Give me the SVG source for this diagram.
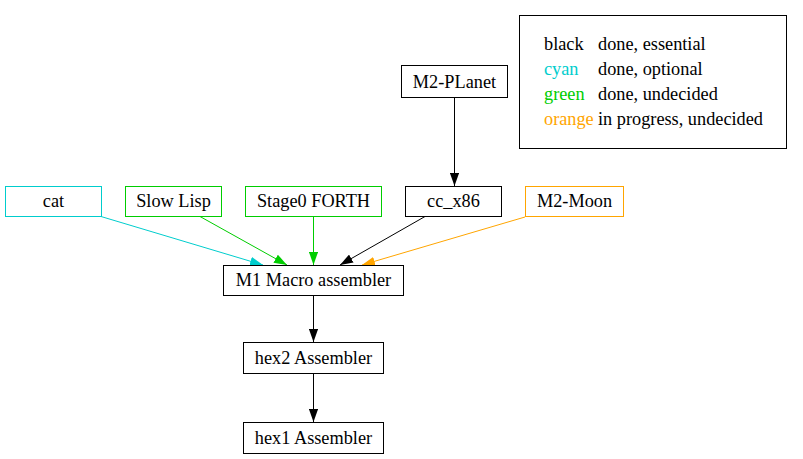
<svg xmlns="http://www.w3.org/2000/svg" width="803" height="459" viewBox="0 0 803 459">
<style>
rect{fill:#fff;stroke-width:1}
text{font-family:"Liberation Serif","Times New Roman",serif;font-size:18.3px;fill:#000}
.n text{text-anchor:middle}
.k{stroke:#000}.c{stroke:#00cdcd}.g{stroke:#00cd00}.o{stroke:#ffa500}
.e path{fill:none;stroke-width:1}
</style>
<defs>
<marker id="ak" viewBox="0 0 10 7" markerWidth="13" markerHeight="9.3" refX="10" refY="3.5" orient="auto" markerUnits="userSpaceOnUse"><path d="M0,0L10,3.5L0,7z" fill="#000"/></marker>
<marker id="ac" viewBox="0 0 10 7" markerWidth="13" markerHeight="9.3" refX="10" refY="3.5" orient="auto" markerUnits="userSpaceOnUse"><path d="M0,0L10,3.5L0,7z" fill="#00cdcd"/></marker>
<marker id="ag" viewBox="0 0 10 7" markerWidth="13" markerHeight="9.3" refX="10" refY="3.5" orient="auto" markerUnits="userSpaceOnUse"><path d="M0,0L10,3.5L0,7z" fill="#00cd00"/></marker>
<marker id="ao" viewBox="0 0 10 7" markerWidth="13" markerHeight="9.3" refX="10" refY="3.5" orient="auto" markerUnits="userSpaceOnUse"><path d="M0,0L10,3.5L0,7z" fill="#ffa500"/></marker>
</defs>
<rect x="0" y="0" width="803" height="459" style="stroke:none"/>
<g id="edges" class="e">
<path class="k" d="M454.5,98V186" marker-end="url(#ak)"/>
<path class="c" d="M101,216.5L263,265" marker-end="url(#ac)"/>
<path class="g" d="M200,216.5L287,265" marker-end="url(#ag)"/>
<path class="g" d="M313.5,216.5V265" marker-end="url(#ag)"/>
<path class="k" d="M425,216.5L340,265" marker-end="url(#ak)"/>
<path class="o" d="M525,217L362,265" marker-end="url(#ao)"/>
<path class="k" d="M313.5,296V342" marker-end="url(#ak)"/>
<path class="k" d="M313.5,374V422" marker-end="url(#ak)"/>
</g>
<g id="legend">
<rect class="k" x="519.5" y="15.5" width="267" height="133"/>
<text x="544" y="50">black</text>
<text x="544" y="75" style="fill:#00cdcd">cyan</text>
<text x="544" y="100" style="fill:#00cd00">green</text>
<text x="544" y="125" style="fill:#ffa500">orange</text>
<text x="598" y="50">done, essential</text>
<text x="598" y="75">done, optional</text>
<text x="598" y="100">done, undecided</text>
<text x="598" y="125">in progress, undecided</text>
</g>
<g id="m2planet" class="n"><rect class="k" x="401.5" y="65.5" width="106" height="32"/><text x="454.5" y="88">M2-PLanet</text></g>
<g id="cat" class="n"><rect class="c" x="5.5" y="186.5" width="96" height="30"/><text x="53.5" y="207">cat</text></g>
<g id="slowlisp" class="n"><rect class="g" x="125.5" y="186.5" width="96" height="30"/><text x="173.5" y="207">Slow Lisp</text></g>
<g id="stage0" class="n"><rect class="g" x="245.5" y="186.5" width="136" height="30"/><text x="313.5" y="207">Stage0 FORTH</text></g>
<g id="ccx86" class="n"><rect class="k" x="405.5" y="186.5" width="96" height="30"/><text x="453.5" y="207">cc_x86</text></g>
<g id="m2moon" class="n"><rect class="o" x="525.5" y="186.5" width="98" height="30"/><text x="574.5" y="207">M2-Moon</text></g>
<g id="m1" class="n"><rect class="k" x="223.5" y="265.5" width="180" height="30"/><text x="313.5" y="286">M1 Macro assembler</text></g>
<g id="hex2" class="n"><rect class="k" x="243.5" y="342.5" width="140" height="31"/><text x="313.5" y="364">hex2 Assembler</text></g>
<g id="hex1" class="n"><rect class="k" x="243.5" y="422.5" width="140" height="31"/><text x="313.5" y="444">hex1 Assembler</text></g>
</svg>
